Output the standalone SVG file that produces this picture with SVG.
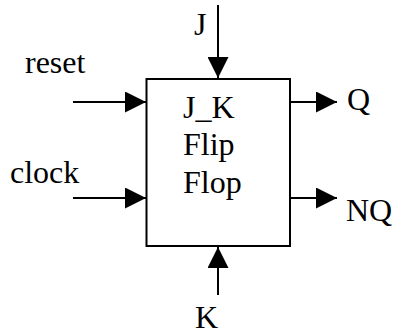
<svg xmlns="http://www.w3.org/2000/svg" width="393" height="334" viewBox="0 0 393 334">
<style>
text{font-family:"Liberation Serif","Times New Roman",serif;font-size:32px;fill:#000}
.c{stroke:#000;stroke-width:2;fill:none}
</style>
<defs>
<marker id="ah" markerUnits="userSpaceOnUse" markerWidth="21" markerHeight="21" refX="21" refY="10.5" orient="auto" viewBox="0 0 21 21">
<path d="M0,0 L21,10.5 L0,21 Z" fill="#000"/>
</marker>
</defs>
<rect width="393" height="334" fill="#fff"/>
<g id="flipflop">
<rect x="146.5" y="79" width="143.5" height="167" fill="#fff" stroke="#000" stroke-width="2"/>
<text x="183" y="118">J_K</text>
<text x="183" y="155">Flip</text>
<text x="183" y="193">Flop</text>
</g>
<g id="labels">
<text id="reset" x="25" y="73">reset</text>
<text id="clock" x="10" y="183">clock</text>
<text id="J" x="194" y="35">J</text>
<text id="Q" x="347" y="110">Q</text>
<text id="NQ" x="346" y="221">NQ</text>
<text id="K" x="195" y="328">K</text>
</g>
<g id="connectors">
<line class="c" x1="73" y1="102" x2="146" y2="102" marker-end="url(#ah)"/>
<line class="c" x1="73" y1="198" x2="146" y2="198" marker-end="url(#ah)"/>
<line class="c" x1="218" y1="5" x2="218" y2="78" marker-end="url(#ah)"/>
<line class="c" x1="291" y1="102" x2="337" y2="102" marker-end="url(#ah)"/>
<line class="c" x1="291" y1="198" x2="337" y2="198" marker-end="url(#ah)"/>
<line class="c" x1="218" y1="295" x2="218" y2="247" marker-end="url(#ah)"/>
</g>
</svg>
